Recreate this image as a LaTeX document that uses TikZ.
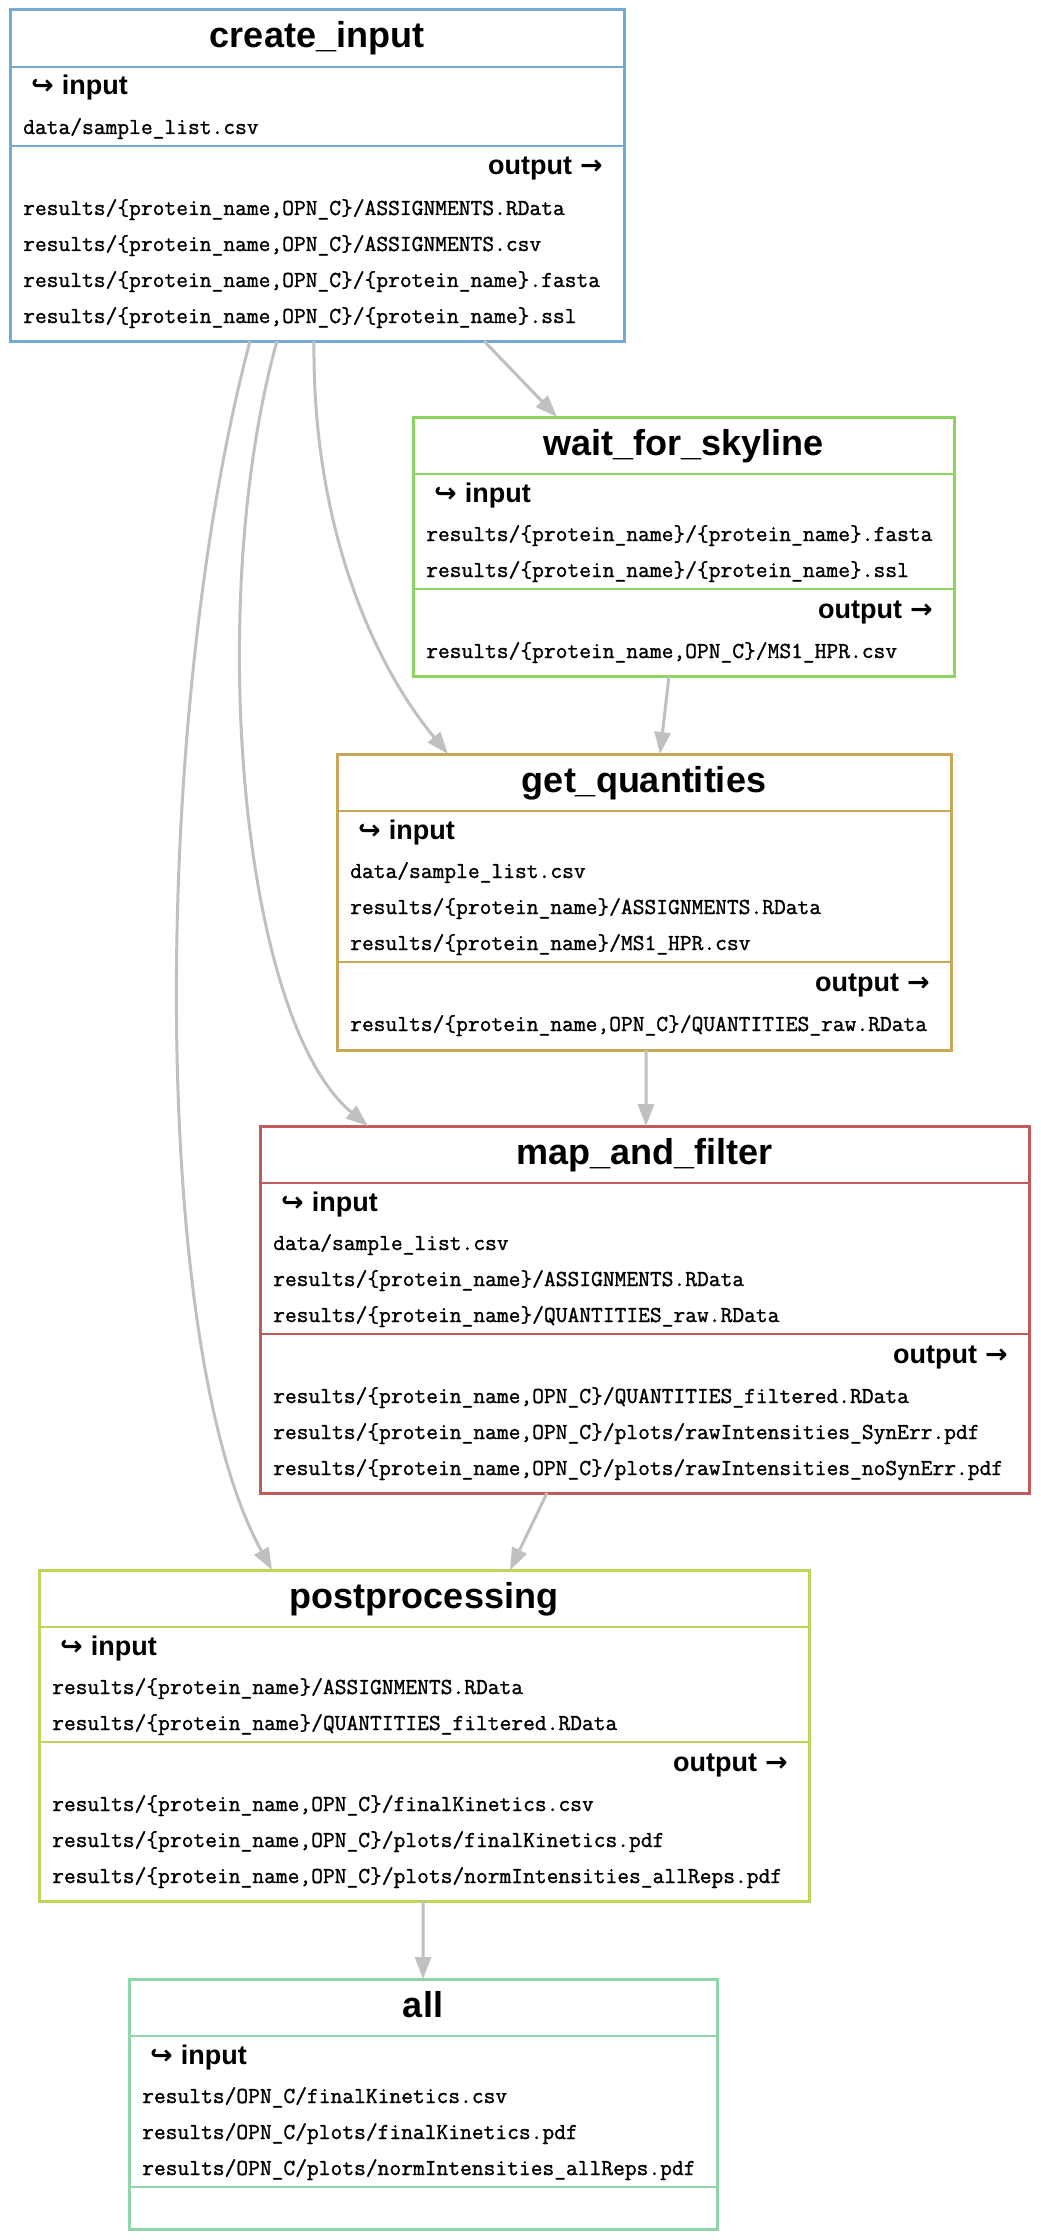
\documentclass[tikz,border=0pt]{standalone}
\usepackage{fontspec}
\setmainfont{Liberation Sans}
\newfontfamily\arrf{DejaVu Sans}
\newfontfamily\monof{Latin Modern Mono}[FakeBold=1.2]
\usetikzlibrary{arrows.meta}
\definecolor{cblue}{HTML}{74A9D6}
\definecolor{cgreen}{HTML}{8DD35F}
\definecolor{ctan}{HTML}{C8A855}
\definecolor{cred}{HTML}{C25B5B}
\definecolor{cyg}{HTML}{BBD65A}
\definecolor{cmint}{HTML}{8DD6A9}
\definecolor{edgegray}{HTML}{C0C0C0}
\tikzset{
  rulebox/.style={draw=#1, line width=3bp, inner sep=0pt, outer sep=0pt, anchor=north west},
  sepline/.style={draw=#1, line width=1.5bp},
  titletext/.style={font=\fontsize{36bp}{40bp}\selectfont\bfseries, anchor=base, inner sep=0pt},
  lbl/.style={font=\fontsize{27bp}{30bp}\selectfont\bfseries, anchor=base west, inner sep=0pt},
  olbl/.style={font=\fontsize{27bp}{30bp}\selectfont\bfseries, anchor=base east, inner sep=0pt},
  file/.style={font=\fontsize{22.86bp}{26bp}\selectfont\monof, anchor=base west, inner sep=0pt},
  conn/.style={draw=edgegray, line width=3bp, -{Triangle[length=22bp,width=16bp]}},
}
\newcommand{\inlbl}{{\arrf\bfseries ↪}\hspace{8bp}input}
\newcommand{\outlbl}{output\hspace{8bp}{\arrf\bfseries →}}
\begin{document}
\begin{tikzpicture}[x=1bp,y=-1bp]
\useasboundingbox (0,0) rectangle (1040,2240);

% create_input
\node[rulebox=cblue, minimum width=614bp, minimum height=331bp] (ci) at (10,10) {};
\draw[sepline=cblue] (10,67) -- (624,67);
\draw[sepline=cblue] (10,146) -- (624,146);
\node[titletext] (ci-t) at (317,48) {create\_input};
\node[lbl] (ci-in) at (31,95) {\inlbl};
\node[file] (ci-i1) at (23,134) {data/sample\_list.csv};
\node[olbl] (ci-out) at (603,175) {\outlbl};
\node[file] (ci-o1) at (23,215) {results/\{protein\_name,OPN\_C\}/ASSIGNMENTS.RData};
\node[file] (ci-o2) at (23,251) {results/\{protein\_name,OPN\_C\}/ASSIGNMENTS.csv};
\node[file] (ci-o3) at (23,287) {results/\{protein\_name,OPN\_C\}/\{protein\_name\}.fasta};
\node[file] (ci-o4) at (23,323) {results/\{protein\_name,OPN\_C\}/\{protein\_name\}.ssl};

% wait_for_skyline
\node[rulebox=cgreen, minimum width=541bp, minimum height=259bp] (wfs) at (413,417) {};
\draw[sepline=cgreen] (413,474) -- (954,474);
\draw[sepline=cgreen] (413,589) -- (954,589);
\node[titletext] (wfs-t) at (683.5,455) {wait\_for\_skyline};
\node[lbl] (wfs-in) at (434,502) {\inlbl};
\node[file] (wfs-i1) at (426,541) {results/\{protein\_name\}/\{protein\_name\}.fasta};
\node[file] (wfs-i2) at (426,577) {results/\{protein\_name\}/\{protein\_name\}.ssl};
\node[olbl] (wfs-out) at (933,618) {\outlbl};
\node[file] (wfs-o1) at (426,658) {results/\{protein\_name,OPN\_C\}/MS1\_HPR.csv};

% get_quantities
\node[rulebox=ctan, minimum width=614bp, minimum height=296bp] (gq) at (337,754) {};
\draw[sepline=ctan] (337,811) -- (951,811);
\draw[sepline=ctan] (337,962) -- (951,962);
\node[titletext] (gq-t) at (644,792) {get\_quantities};
\node[lbl] (gq-in) at (358,839) {\inlbl};
\node[file] (gq-i1) at (350,878) {data/sample\_list.csv};
\node[file] (gq-i2) at (350,914) {results/\{protein\_name\}/ASSIGNMENTS.RData};
\node[file] (gq-i3) at (350,950) {results/\{protein\_name\}/MS1\_HPR.csv};
\node[olbl] (gq-out) at (930,991) {\outlbl};
\node[file] (gq-o1) at (350,1031) {results/\{protein\_name,OPN\_C\}/QUANTITIES\_raw.RData};

% map_and_filter
\node[rulebox=cred, minimum width=769bp, minimum height=367bp] (maf) at (260,1126) {};
\draw[sepline=cred] (260,1183) -- (1029,1183);
\draw[sepline=cred] (260,1334) -- (1029,1334);
\node[titletext] (maf-t) at (644.5,1164) {map\_and\_filter};
\node[lbl] (maf-in) at (281,1211) {\inlbl};
\node[file] (maf-i1) at (273,1250) {data/sample\_list.csv};
\node[file] (maf-i2) at (273,1286) {results/\{protein\_name\}/ASSIGNMENTS.RData};
\node[file] (maf-i3) at (273,1322) {results/\{protein\_name\}/QUANTITIES\_raw.RData};
\node[olbl] (maf-out) at (1008,1363) {\outlbl};
\node[file] (maf-o1) at (273,1403) {results/\{protein\_name,OPN\_C\}/QUANTITIES\_filtered.RData};
\node[file] (maf-o2) at (273,1439) {results/\{protein\_name,OPN\_C\}/plots/rawIntensities\_SynErr.pdf};
\node[file] (maf-o3) at (273,1475) {results/\{protein\_name,OPN\_C\}/plots/rawIntensities\_noSynErr.pdf};

% postprocessing
\node[rulebox=cyg, minimum width=770bp, minimum height=331bp] (pp) at (39,1570) {};
\draw[sepline=cyg] (39,1627) -- (809,1627);
\draw[sepline=cyg] (39,1742) -- (809,1742);
\node[titletext] (pp-t) at (424,1608) {postprocessing};
\node[lbl] (pp-in) at (60,1655) {\inlbl};
\node[file] (pp-i1) at (52,1694) {results/\{protein\_name\}/ASSIGNMENTS.RData};
\node[file] (pp-i2) at (52,1730) {results/\{protein\_name\}/QUANTITIES\_filtered.RData};
\node[olbl] (pp-out) at (788,1771) {\outlbl};
\node[file] (pp-o1) at (52,1811) {results/\{protein\_name,OPN\_C\}/finalKinetics.csv};
\node[file] (pp-o2) at (52,1847) {results/\{protein\_name,OPN\_C\}/plots/finalKinetics.pdf};
\node[file] (pp-o3) at (52,1883) {results/\{protein\_name,OPN\_C\}/plots/normIntensities\_allReps.pdf};

% all
\node[rulebox=cmint, minimum width=588bp, minimum height=250bp] (all) at (129,1979) {};
\draw[sepline=cmint] (129,2036) -- (717,2036);
\draw[sepline=cmint] (129,2187) -- (717,2187);
\node[titletext] (all-t) at (423,2017) {all};
\node[lbl] (all-in) at (150,2064) {\inlbl};
\node[file] (all-i1) at (142,2103) {results/OPN\_C/finalKinetics.csv};
\node[file] (all-i2) at (142,2139) {results/OPN\_C/plots/finalKinetics.pdf};
\node[file] (all-i3) at (142,2175) {results/OPN\_C/plots/normIntensities\_allReps.pdf};

% connectors
\draw[conn] ([xshift=474bp]ci.south west) -- ([xshift=144bp]wfs.north west);
\draw[conn] ([xshift=304bp]ci.south west) .. controls (312,520) and (370,660) .. ([xshift=111bp]gq.north west);
\draw[conn] ([xshift=267bp]ci.south west) .. controls (205,600) and (240,1020) .. ([xshift=108bp]maf.north west);
\draw[conn] ([xshift=240bp]ci.south west) .. controls (150,720) and (150,1350) .. ([xshift=233bp]pp.north west);
\draw[conn] ([xshift=256bp]wfs.south west) -- ([xshift=323bp]gq.north west);
\draw[conn] ([xshift=309bp]gq.south west) -- ([xshift=386bp]maf.north west);
\draw[conn] ([xshift=287bp]maf.south west) -- ([xshift=471bp]pp.north west);
\draw[conn] ([xshift=384bp]pp.south west) -- ([xshift=294bp]all.north west);
\end{tikzpicture}
\end{document}
